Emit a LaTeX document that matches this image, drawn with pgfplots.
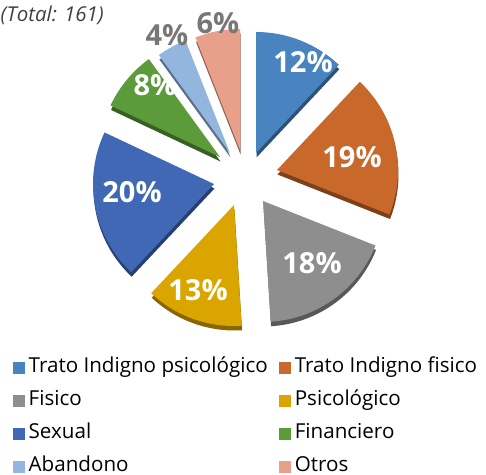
\documentclass[border=0pt]{standalone}
\usepackage{fontspec}
\setmainfont{Open Sans}
\usepackage{pgfplots}
\pgfplotsset{compat=1.18}

\definecolor{cA}{HTML}{4A84C0}
\definecolor{cB}{HTML}{C8682A}
\definecolor{cC}{HTML}{8E8E8E}
\definecolor{cD}{HTML}{DBA500}
\definecolor{cE}{HTML}{4068B5}
\definecolor{cF}{HTML}{5B9B3A}
\definecolor{cG}{HTML}{93B6DE}
\definecolor{cH}{HTML}{E8A08A}
\definecolor{lbl}{HTML}{777777}

% running cumulative share (percent)
\xdef\cum{0}
% #1 share (%), #2 colour, #3 apex x, #4 apex y (from top), #5 legend text
\newcommand\slice[5]{%
  \pgfmathsetmacro\sa{90-3.6*\cum}%
  \pgfmathsetmacro\ea{90-3.6*(\cum+#1)}%
  \pgfmathsetmacro\ax{#3}%
  \pgfmathsetmacro\ay{475-#4}%
  \pgfmathsetmacro\sx{#3+0.5}%
  \pgfmathsetmacro\sy{475-#4-4.5}%
  \edef\tmp{%
    \noexpand\addplot[fill=#2!62!black, draw=none, forget plot]
      coordinates {(\sx,\sy)} -- ++(\sa:121bp)
      arc[start angle=\sa, end angle=\ea, radius=121bp] -- cycle;
    \noexpand\addplot[fill=#2, draw=none]
      coordinates {(\ax,\ay)} -- ++(\sa:121bp)
      arc[start angle=\sa, end angle=\ea, radius=121bp] -- cycle;
    \noexpand\addlegendentry{#5}%
  }\tmp
  \pgfmathsetmacro\newcum{\cum+#1}\xdef\cum{\newcum}%
}

\begin{document}
\begin{tikzpicture}
\begin{axis}[
  scale only axis, width=486bp, height=475bp,
  xmin=0, xmax=486, ymin=0, ymax=475,
  hide axis, clip=false,
  legend columns=2,
  legend cell align=left,
  legend image code/.code={\path[#1] (0bp,-6bp) rectangle (12bp,6bp);},
  legend style={at={(axis cs:10,119)}, anchor=north west, draw=none, fill=none,
    font=\fontsize{20.6bp}{23bp}\selectfont, text=black,
    nodes={text height=14bp, text depth=5bp, inner ysep=0pt, inner xsep=3.5bp},
    row sep=14bp,
    /tikz/every even column/.append style={column sep=8bp}},
]
\coordinate (BL) at (axis cs:0,0);
\coordinate (TR) at (axis cs:486,475);

\slice{12}{cA}{256}{153}{Trato Indigno psicológico}
\slice{19}{cB}{277}{170}{Trato Indigno fisico}
\slice{18}{cC}{263}{201}{Fisico}
\slice{13}{cD}{234}{205}{Psicológico}
\slice{20}{cE}{214}{184}{Sexual}
\slice{8}{cF}{220}{157}{Financiero}
\slice{4}{cG}{230}{153}{Abandono}
\slice{6}{cH}{240}{150}{Otros}

\begin{scope}[every node/.style={font=\fontsize{29bp}{32bp}\selectfont\bfseries, text=white, inner sep=0pt}]
\node at (axis cs:303,413) {12\%};
\node at (axis cs:352,318) {19\%};
\node at (axis cs:312,212) {18\%};
\node at (axis cs:198,185) {13\%};
\node at (axis cs:132,283) {20\%};
\node at (axis cs:155,390) {8\%};
\node[text=lbl] at (axis cs:167,440) {4\%};
\node[text=lbl] at (axis cs:218,452) {6\%};
\end{scope}

\node[anchor=west, inner sep=0pt, font=\fontsize{20.5bp}{23bp}\selectfont\itshape, text=black!75]
  at (axis cs:0.5,460) {(Total: 161)};
\end{axis}
\pgfresetboundingbox
\path (BL) rectangle (TR);
\end{tikzpicture}
\end{document}
